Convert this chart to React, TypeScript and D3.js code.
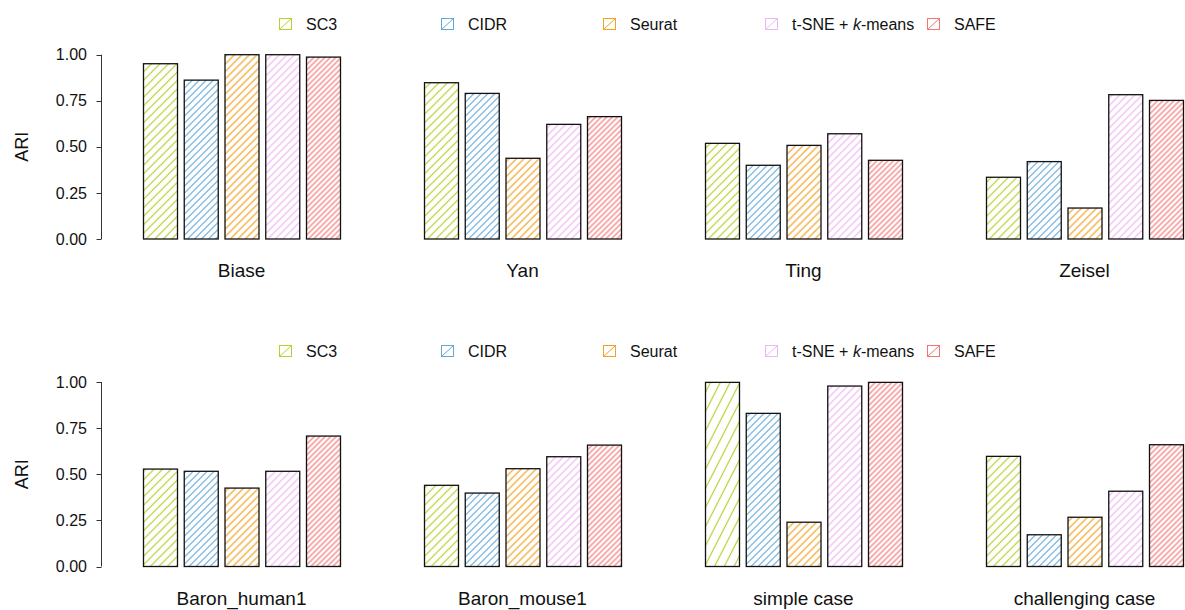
import React from "react";
import * as d3 from "d3";

// Methods compared and their hatch colours
const methods = ["SC3", "CIDR", "Seurat", "t-SNE + k-means", "SAFE"];
const methodColors = ["#b2d22c", "#62a9d6", "#f4a020", "#eeb6f2", "#f47474"];
// Horizontal distance between hatch lines (px) for each method
const hatchGap = [8.5, 7, 7.5, 7.5, 5.5];

const topDatasets = ["Biase", "Yan", "Ting", "Zeisel"];
const bottomDatasets = ["Baron_human1", "Baron_mouse1", "simple case", "challenging case"];

// ARI per method, across the eight datasets (top row then bottom row)
const ariSC3 = [0.951, 0.848, 0.519, 0.335, 0.528, 0.44, 0.998, 0.597];
const ariCIDR = [0.862, 0.79, 0.4, 0.42, 0.516, 0.398, 0.83, 0.172];
const ariSeurat = [1.0, 0.438, 0.508, 0.168, 0.425, 0.53, 0.24, 0.267];
const ariTsne = [1.0, 0.622, 0.571, 0.783, 0.516, 0.595, 0.978, 0.408];
const ariSAFE = [0.987, 0.664, 0.427, 0.752, 0.707, 0.658, 0.998, 0.66];

// Hatch angle (degrees from horizontal); one bar uses a steeper angle
const defaultAngle = 45;
const steepBars = [{ dataset: "simple case", method: "SC3", angle: 63 }];

const yTicks = [0, 0.25, 0.5, 0.75, 1];

const allValues = [ariSC3, ariCIDR, ariSeurat, ariTsne, ariSAFE];
const FONT = "'Liberation Sans', Arial, Helvetica, sans-serif";

function angleFor(dataset: string, method: string) {
  const s = steepBars.find((b) => b.dataset === dataset && b.method === method);
  return s ? s.angle : defaultAngle;
}

function patternId(mi: number, angle: number) {
  return `hatch-${mi}-${angle}`;
}

function Legend({ y }: { y: number }) {
  const lx = d3.scaleLinear().domain([0, 1]).range([279, 441]);
  return (
    <g>
      {methods.map((m, i) => {
        const x = lx(i);
        return (
          <g key={m}>
            <rect x={x + 0.5} y={y + 0.5} width={12} height={11} fill="#fff" stroke={methodColors[i]} strokeWidth={1} />
            <line x1={x + 0.5} y1={y + 11.5} x2={x + 12.5} y2={y + 0.5} stroke={methodColors[i]} strokeWidth={1} />
            <text x={x + 27} y={y + 12} fontSize={16} fontFamily={FONT} fill="#111">
              {m === "t-SNE + k-means" ? (
                <>
                  t-SNE + <tspan fontStyle="italic">k</tspan>-means
                </>
              ) : (
                m
              )}
            </text>
          </g>
        );
      })}
    </g>
  );
}

function Panel({ datasets, offset, yTop, yBottom }: { datasets: string[]; offset: number; yTop: number; yBottom: number }) {
  const y = d3.scaleLinear().domain([0, 1]).range([yBottom, yTop]);
  const gx = d3.scaleBand<string>().domain(datasets).range([143, 143 + 4 * 281 - 84]).paddingInner(84 / 281);
  const bx = d3.scaleBand<string>().domain(methods).range([0, gx.bandwidth()]).paddingInner(6.75 / 40.75);
  const axisX = 101.5;
  return (
    <g>
      {/* y axis */}
      <line x1={axisX} x2={axisX} y1={y(0)} y2={y(1)} stroke="#333" strokeWidth={1} />
      {yTicks.map((t) => (
        <g key={t}>
          <line x1={axisX - 5} x2={axisX} y1={Math.round(y(t)) + 0.5} y2={Math.round(y(t)) + 0.5} stroke="#333" strokeWidth={1} />
          <text x={87} y={y(t)} dy="0.35em" textAnchor="end" fontSize={16} fontFamily={FONT} fill="#111">
            {t.toFixed(2)}
          </text>
        </g>
      ))}
      <text
        transform={`translate(22,${(y(0) + y(1)) / 2}) rotate(-90)`}
        textAnchor="middle"
        dy="0.35em"
        fontSize={18}
        fontFamily={FONT}
        fill="#111"
      >
        ARI
      </text>
      {datasets.map((ds, di) => (
        <g key={ds} transform={`translate(${gx(ds)},0)`}>
          {methods.map((m, mi) => {
            const v = allValues[mi][offset + di];
            const x0 = bx(m)!;
            const top = y(v);
            return (
              <rect
                key={m}
                x={x0 + 0.5}
                y={top}
                width={bx.bandwidth()}
                height={y(0) - top}
                fill={`url(#${patternId(mi, angleFor(ds, m))})`}
                stroke="#111"
                strokeWidth={1.3}
              />
            );
          })}
          <text
            x={gx.bandwidth() / 2}
            y={y(0) + 38}
            textAnchor="middle"
            fontSize={19}
            fontFamily={FONT}
            fill="#111"
          >
            {ds}
          </text>
        </g>
      ))}
    </g>
  );
}

export default function App() {
  const patternDefs: { mi: number; angle: number }[] = [];
  methods.forEach((_, mi) => {
    patternDefs.push({ mi, angle: defaultAngle });
  });
  steepBars.forEach((b) => {
    patternDefs.push({ mi: methods.indexOf(b.method), angle: b.angle });
  });

  return (
    <svg
      width={1185}
      height={610}
      style={{ position: "absolute", left: 0, top: 0, background: "#fff" }}
    >
      <defs>
        {patternDefs.map(({ mi, angle }) => {
          const rad = (angle * Math.PI) / 180;
          const gap = hatchGap[mi] * Math.sin(rad) * (angle === defaultAngle ? 1 : 1.15);
          return (
            <pattern
              key={patternId(mi, angle)}
              id={patternId(mi, angle)}
              patternUnits="userSpaceOnUse"
              width={gap}
              height={20}
              patternTransform={`rotate(${90 - angle})`}
            >
              <rect width={gap} height={20} fill="#fff" />
              <line x1={gap / 2} x2={gap / 2} y1={0} y2={20} stroke={methodColors[mi]} strokeWidth={1.15} />
            </pattern>
          );
        })}
      </defs>
      <rect width={1185} height={610} fill="#fff" />
      <Legend y={18} />
      <Panel datasets={topDatasets} offset={0} yTop={54.7} yBottom={239} />
      <Legend y={345} />
      <Panel datasets={bottomDatasets} offset={4} yTop={382} yBottom={566.5} />
    </svg>
  );
}
